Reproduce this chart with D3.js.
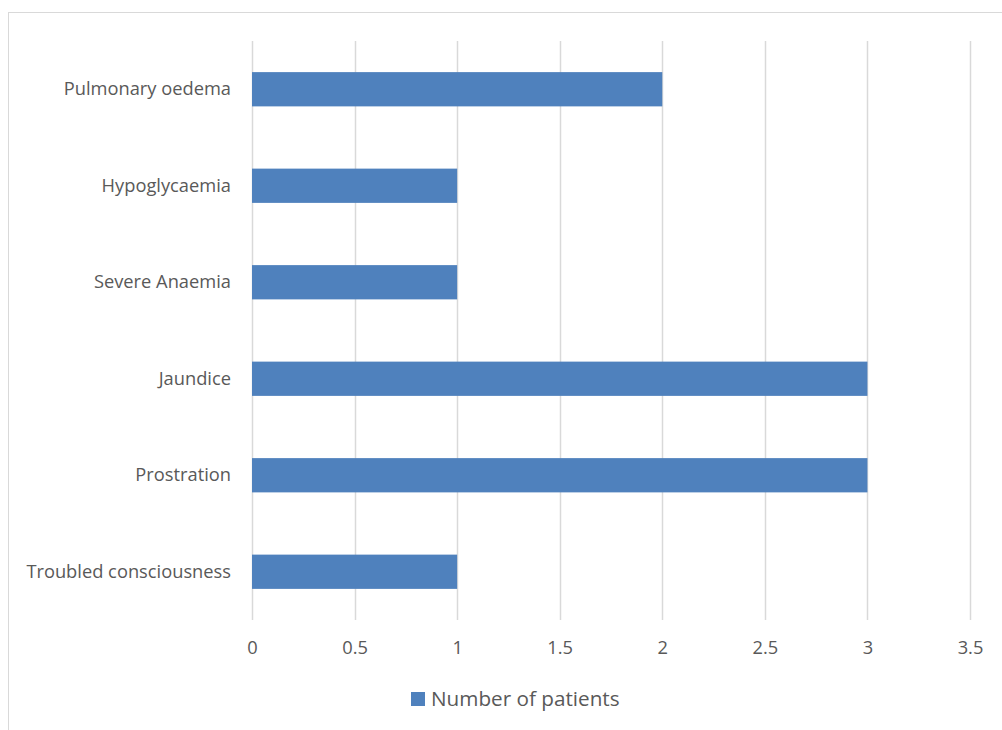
<!DOCTYPE html>
<html><head><meta charset="utf-8">
<script src="https://cdn.jsdelivr.net/npm/d3@7"></script>
<style>body{margin:0;background:#fff;} text{font-family:"Open Sans",sans-serif;fill:#595959;}</style>
</head><body>
<svg id="c" width="1002" height="730"></svg>
<script>
const categories = ["Pulmonary oedema","Hypoglycaemia","Severe Anaemia","Jaundice","Prostration","Troubled consciousness"];
const values = [2,1,1,3,3,1];
const ticks = [0,0.5,1,1.5,2,2.5,3,3.5];
const seriesName = "Number of patients";

const svg = d3.select("#c");
svg.append("rect").attr("x",8.5).attr("y",12.5).attr("width",1010).attr("height",730)
  .attr("fill","none").attr("stroke","#D9D9D9").attr("stroke-width",1);

const x = d3.scaleLinear().domain([0,3.5]).range([252,970]);
const y = d3.scaleBand().domain(categories).range([41,620]).padding(0.645).paddingOuter(0.3225);

// gridlines
svg.append("g").selectAll("line").data(ticks).join("line")
  .attr("x1",d=>Math.round(x(d))+0.5).attr("x2",d=>Math.round(x(d))+0.5)
  .attr("y1",41).attr("y2",620).attr("stroke","#D9D9D9").attr("stroke-width",1.5);

const xa = d3.axisBottom(x).tickValues(ticks).tickSize(0).tickPadding(0).tickFormat(d3.format("~g"));
const gx = svg.append("g").attr("transform","translate(0,648)").call(xa);
gx.select(".domain").remove();
gx.selectAll("text").attr("font-size",18.3).attr("dy","0.35em").attr("fill","#595959");

svg.append("g").selectAll("rect").data(values).join("rect")
  .attr("x",x(0)).attr("y",(d,i)=>y(categories[i]))
  .attr("width",d=>x(d)-x(0)).attr("height",y.bandwidth()).attr("fill","#4F81BD");

const ya = d3.axisLeft(y).tickSize(0).tickPadding(21);
const gy = svg.append("g").attr("transform",`translate(${x(0)},0)`).call(ya);
gy.select(".domain").remove();
gy.selectAll("text").attr("font-size",18.3).attr("fill","#595959");

const lg = svg.append("g");
lg.append("rect").attr("x",411).attr("y",692).attr("width",14).attr("height",14).attr("fill","#4F81BD");
lg.append("text").attr("x",431).attr("y",699).attr("dy","0.35em").attr("font-size",20.7).text(seriesName);
</script>
</body></html>
